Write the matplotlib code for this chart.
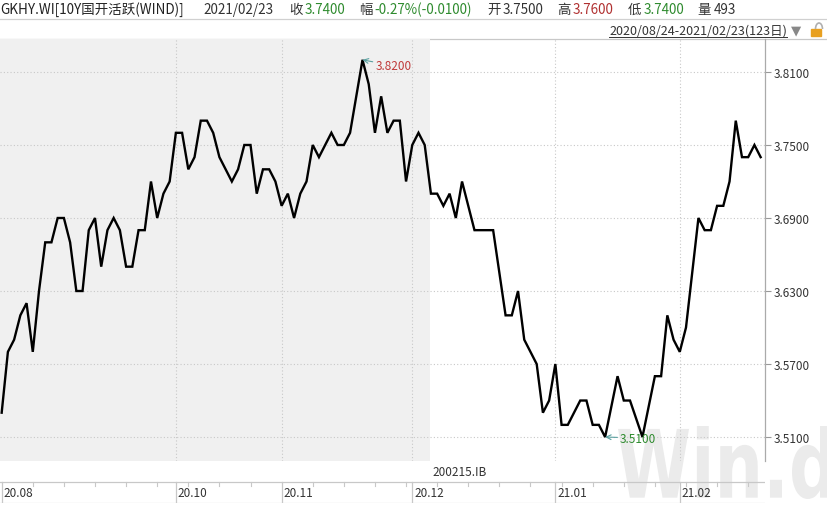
import matplotlib
matplotlib.use('Agg')
import matplotlib.pyplot as plt
from matplotlib.lines import Line2D
from matplotlib.patches import Rectangle, Arc, PathPatch
from matplotlib.textpath import TextPath
from matplotlib.font_manager import FontProperties
from matplotlib.transforms import Affine2D
import numpy as np

plt.rcParams['font.family'] = ['Noto Sans CJK SC', 'DejaVu Sans']

# ---------------- data ----------------
values = [3.53, 3.58, 3.59, 3.61, 3.62, 3.58, 3.63, 3.67, 3.67, 3.69,
          3.69, 3.67, 3.63, 3.63, 3.68, 3.69, 3.65, 3.68, 3.69, 3.68,
          3.65, 3.65, 3.68, 3.68, 3.72, 3.69, 3.71, 3.72, 3.76, 3.76,
          3.73, 3.74, 3.77, 3.77, 3.76, 3.74, 3.73, 3.72, 3.73, 3.75,
          3.75, 3.71, 3.73, 3.73, 3.72, 3.70, 3.71, 3.69, 3.71, 3.72,
          3.75, 3.74, 3.75, 3.76, 3.75, 3.75, 3.76, 3.79, 3.82, 3.80,
          3.76, 3.79, 3.76, 3.77, 3.77, 3.72, 3.75, 3.76, 3.75, 3.71,
          3.71, 3.70, 3.71, 3.69, 3.72, 3.70, 3.68, 3.68, 3.68, 3.68,
          3.645, 3.61, 3.61, 3.63, 3.59, 3.58, 3.57, 3.53, 3.54, 3.57,
          3.52, 3.52, 3.53, 3.54, 3.54, 3.52, 3.52, 3.51, 3.535, 3.56,
          3.54, 3.54, 3.525, 3.51, 3.535, 3.56, 3.56, 3.61, 3.59, 3.58,
          3.60, 3.645, 3.69, 3.68, 3.68, 3.70, 3.70, 3.72, 3.77, 3.74,
          3.74, 3.75, 3.74]
month_start_idx = [0, 28, 45, 66, 89, 109]
month_labels = ['20.08', '20.10', '20.11', '20.12', '21.01', '21.02']
y_ticks = [3.51, 3.57, 3.63, 3.69, 3.75, 3.81]
bond_switch_idx = 69
bond_label = '200215.IB'

header_items = [  # (text, x_px, color)
    ('GKHY.WI[10Y国开活跃(WIND)]', 0, '#222222'),
    ('2021/02/23', 203, '#333333'),
    ('收', 289, '#333333'), ('3.7400', 305, '#2e8b2e'),
    ('幅', 359, '#333333'), ('-0.27%(-0.0100)', 374, '#2e8b2e'),
    ('开', 487, '#333333'), ('3.7500', 503, '#333333'),
    ('高', 557, '#333333'), ('3.7600', 573, '#b03030'),
    ('低', 628, '#333333'), ('3.7400', 644, '#2e8b2e'),
    ('量', 697, '#333333'), ('493', 714, '#333333'),
]
range_label = '2020/08/24-2021/02/23(123日)'
watermark = 'Win.d'

# ---------------- layout ----------------
W, H = 827, 506
fig = plt.figure(figsize=(W / 100, H / 100), dpi=100)
fig.patch.set_facecolor('white')


def fx(px):
    return px / W


def fy(py):
    return 1 - py / H


x = np.arange(len(values))
x0 = -0.27
x1 = 122.7
plot_top, plot_bot, plot_right = 40, 462, 765

# watermark (behind everything), stretched to fit its box
tp = TextPath((0, 0), watermark, size=1,
              prop=FontProperties(family='DejaVu Sans', weight='bold'))
ext = tp.get_extents()
box_l, box_r, box_t, box_b = 618, 832, 427, 500
sx = (fx(box_r) - fx(box_l)) / ext.width
sy = (fy(box_t) - fy(box_b)) / ext.height
tr = (Affine2D().translate(-ext.x0, -ext.y0).scale(sx, sy)
      .translate(fx(box_l), fy(box_b)) + fig.transFigure)
fig.add_artist(PathPatch(tp, transform=tr, facecolor='#ebebeb', edgecolor='none',
                         zorder=0.5))

ax = fig.add_axes([0, fy(plot_bot), fx(plot_right), fy(plot_top) - fy(plot_bot)])
ax.set_zorder(2)
ax.patch.set_alpha(0)
ax.set_xlim(x0, x1)
ax.set_ylim(3.4903, 3.8371)

ax.axvspan(x0, bond_switch_idx - 0.15, color='#f0f0f0', lw=0, zorder=0)

for v in y_ticks:
    ax.axhline(v, color='#c8c8c8', lw=0.8, ls=(0, (1, 2)), zorder=1)
for i in month_start_idx[1:]:
    ax.axvline(i, color='#c8c8c8', lw=0.8, ls=(0, (1, 2)), zorder=1)

ax.plot(x, values, color='black', lw=1.7, zorder=3, solid_joinstyle='miter')

vals = np.array(values)
imax = int(np.argmax(vals))
imin = int(np.argmin(vals))
ax.annotate(f'{vals[imax]:.4f}', xy=(imax, vals[imax]), xytext=(13, -6),
            textcoords='offset pixels', color='#c03a3a', fontsize=8.5,
            va='center', ha='left', zorder=4,
            arrowprops=dict(arrowstyle='->', color='#5aa0a0', lw=0.8,
                            shrinkA=0, shrinkB=0))
ax.annotate(f'{vals[imin]:.4f}', xy=(imin, vals[imin]), xytext=(15, -1),
            textcoords='offset pixels', color='#2e8b2e', fontsize=8.5,
            va='center', ha='left', zorder=4,
            arrowprops=dict(arrowstyle='->', color='#5aa0a0', lw=0.8,
                            shrinkA=0, shrinkB=0))

ax.yaxis.tick_right()
ax.set_yticks(y_ticks)
ax.set_yticklabels([f'{v:.4f}' for v in y_ticks])
ax.tick_params(axis='y', length=4, width=0.8, color='#999999', labelsize=8.5,
               labelcolor='#333333', pad=2)
ax.set_xticks([])
for s in ['left', 'top', 'bottom']:
    ax.spines[s].set_visible(False)
ax.spines['right'].set_color('#aaaaaa')
ax.spines['right'].set_linewidth(0.9)

# bottom strip
st = fig.add_axes([0, fy(504), fx(plot_right), fy(plot_bot) - fy(504)])
st.set_zorder(2)
st.patch.set_alpha(0)
st.set_xlim(x0, x1)
st.set_ylim(0, 42)
st.axis('off')
st.axhline(21, color='#c8c8c8', lw=0.9)
st.axhline(0.5, color='#d8d8d8', lw=0.9)
st.text(bond_switch_idx + 0.2, 31, bond_label, fontsize=8.5, color='#333333',
        ha='left', va='center')
for i, lab in zip(month_start_idx, month_labels):
    st.plot([i, i], [0.5, 21], color='#c8c8c8', lw=0.9)
    st.text(i + 0.3, 10, lab, fontsize=8.5, color='#333333', ha='left', va='center')
for i in np.arange(0, len(values), 5):
    if i not in month_start_idx:
        st.plot([i, i], [17, 21], color='#c8c8c8', lw=0.8)

# header
for txt, px, col in header_items:
    fig.text(fx(px), fy(10), txt, fontsize=9.7, color=col, ha='left', va='center')
fig.add_artist(Line2D([0, 1], [fy(20), fy(20)], color='#d0d0d0', lw=0.9))
fig.add_artist(Line2D([0, 1], [fy(40), fy(40)], color='#c8c8c8', lw=0.9))
fig.text(fx(787), fy(31), range_label, fontsize=9, color='#333333',
         ha='right', va='center')
fig.add_artist(Line2D([fx(609), fx(787)], [fy(38), fy(38)], color='#333333', lw=0.7))
fig.text(fx(796), fy(31), '▼', fontsize=9.5, color='#888888', ha='center', va='center',
         family=['DejaVu Sans'])
# small lock icon
fig.add_artist(Rectangle((fx(811), fy(37)), fx(10), fy(30) - fy(37),
                         color='#e8a020', transform=fig.transFigure))
fig.add_artist(Arc((fx(819), fy(30)), fx(7), (fy(24) - fy(30)) * 2, theta1=0, theta2=180,
                   color='#b0b0b0', lw=1.2, transform=fig.transFigure))

fig.savefig('out.png', dpi=100)
